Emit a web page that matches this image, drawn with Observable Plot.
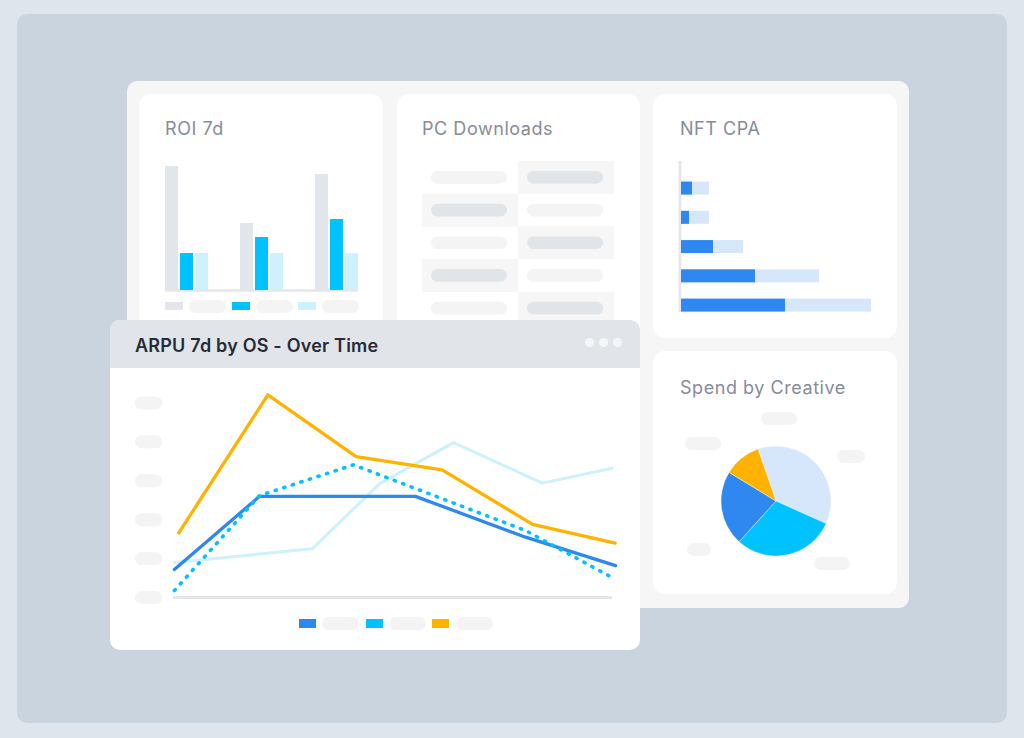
<!DOCTYPE html>
<html><head><meta charset="utf-8">
<script src="https://cdn.jsdelivr.net/npm/d3@7"></script>
<script src="https://cdn.jsdelivr.net/npm/@observablehq/plot@0.6"></script>
<style>
html,body{margin:0;padding:0}
body{width:1024px;height:738px;background:#dfe5ed;position:relative;overflow:hidden;font-family:Inter,"Noto Sans",sans-serif}
.abs{position:absolute}
.card{position:absolute;background:#fff;border-radius:12px}
.title{position:absolute;font-size:18px;line-height:20px;color:#878b9b;white-space:nowrap;font-weight:400;letter-spacing:0.55px}
.pill{position:absolute;background:#f4f4f4;border-radius:7px}
.sw{position:absolute}
.chart{position:absolute}
.chart svg{display:block;background:transparent;max-width:none}
</style></head><body>
<div class="abs" style="left:17px;top:14px;width:990px;height:709px;background:#cad4de;border-radius:10px"></div>
<div class="abs" style="left:127px;top:81px;width:782px;height:527px;background:#f6f6f6;border-radius:10px"></div>

<div class="card" style="left:139px;top:94px;width:244px;height:270px"></div>
<div class="card" style="left:397px;top:94px;width:243px;height:270px"></div>
<div class="card" style="left:653px;top:94px;width:244px;height:244px"></div>
<div class="card" style="left:653px;top:351px;width:244px;height:243px"></div>

<div class="title" style="left:165px;top:119px">ROI 7d</div>
<div class="title" style="left:422px;top:119px">PC Downloads</div>
<div class="title" style="left:680px;top:119px">NFT CPA</div>
<div class="title" style="left:680px;top:378px">Spend by Creative</div>

<div id="roi" class="chart" style="left:139px;top:150px;width:244px;height:145px"></div>
<div id="roiLegend"></div>
<div id="table" class="chart" style="left:397px;top:150px;width:243px;height:180px"></div>
<div id="nft" class="chart" style="left:653px;top:150px;width:244px;height:170px"></div>

<div class="pill" style="left:761px;top:412px;width:36px;height:13px"></div>
<div class="pill" style="left:685px;top:437px;width:36px;height:13px"></div>
<div class="pill" style="left:837px;top:450px;width:28px;height:13px"></div>
<div class="pill" style="left:687px;top:543px;width:24px;height:13px"></div>
<div class="pill" style="left:814px;top:557px;width:36px;height:13px"></div>
<div id="pie" class="chart" style="left:716px;top:441px;width:120px;height:120px"></div>

<div class="abs" style="left:110px;top:320px;width:530px;height:330px;background:#fff;border-radius:10px;overflow:hidden">
  <div class="abs" style="left:0;top:0;width:530px;height:48px;background:#e1e5e9"></div>
  <div class="abs" style="left:25px;top:16px;font-size:18px;line-height:20px;font-weight:600;color:#262b36;white-space:nowrap;letter-spacing:0.2px">ARPU 7d by OS - Over Time</div>
  <div class="abs" style="left:474.6px;top:17.6px;width:9.4px;height:9.4px;border-radius:50%;background:#f5f6f8"></div>
  <div class="abs" style="left:488.6px;top:17.6px;width:9.4px;height:9.4px;border-radius:50%;background:#f5f6f8"></div>
  <div class="abs" style="left:502.6px;top:17.6px;width:9.4px;height:9.4px;border-radius:50%;background:#f5f6f8"></div>
</div>
<div id="arpu" class="chart" style="left:110px;top:368px;width:530px;height:282px"></div>
<div id="arpuLegend"></div>

<script>
// ---------- ROI 7d (grouped bars) ----------
const roiGroups = ["Campaign A", "Campaign B", "Campaign C"];
const roiSeries = ["Spend", "Revenue", "Target"];
const roiSpend = [62, 33.5, 58];
const roiRevenue = [18.5, 26.5, 35.5];
const roiTarget = [18.5, 18.5, 18.5];
const roiColors = ["#e2e5e9", "#00c2ff", "#cdf1fd"];

// ---------- PC Downloads (table cells) ----------
const tableCols = ["Platform", "Downloads"];
const tableRows = ["Row 1", "Row 2", "Row 3", "Row 4", "Row 5"];

// ---------- NFT CPA (horizontal bars) ----------
const nftRows = ["Tier 1", "Tier 2", "Tier 3", "Tier 4", "Tier 5"];
const nftActual = [11, 8, 32, 74, 104];
const nftTotal = [28, 28, 62, 138, 190];

// ---------- Spend by Creative (pie) ----------
const pieLabels = ["Video", "Playable", "Banner", "Static"];
const pieValues = [37, 30, 22, 11];
const pieColors = ["#d6e6fb", "#00c2ff", "#2f88f0", "#ffb300"];

// ---------- ARPU 7d by OS (lines) ----------
const arpuSeries = ["Web", "Android", "iOS (forecast)", "iOS"];
const arpuColors = ["#cdf1fd", "#2f88f0", "#00c2ff", "#ffb300"];
const webX = [0.2, 31.6, 46.9, 63.8, 84.0, 99.9];
const webY = [9.0, 12.5, 29.2, 39.8, 29.4, 33.2];
const androidX = [0.2, 19.6, 55.1, 80.2, 100.7];
const androidY = [7.2, 26.0, 26.0, 15.5, 8.2];
const forecastX = [0.2, 19.6, 41.0, 80.2, 100];
const forecastY = [1.8, 26.2, 34.1, 17.2, 5.1];
const iosX = [1.2, 21.5, 41.6, 61.2, 81.8, 100.6];
const iosY = [16.6, 52.1, 36.2, 32.8, 18.8, 14.0];
const arpuTicks = [0, 10, 20, 30, 40, 50];
const arpuLegendSeries = ["Android", "iOS (forecast)", "iOS"];

// ===== ROI chart =====
const roiValues = [roiSpend, roiRevenue, roiTarget];
const roiData = roiGroups.flatMap((g, i) => roiSeries.map((s, j) => ({group: g, series: s, key: g + "|" + s, value: roiValues[j][i]})));
const roiDomain = [];
roiGroups.forEach((g, i) => { if (i) roiDomain.push("gap" + i + "a", "gap" + i + "b"); roiSeries.forEach(s => roiDomain.push(g + "|" + s)); });
document.getElementById("roi").append(Plot.plot({
  width: 244, height: 145, marginLeft: 26, marginRight: 25, marginTop: 16, marginBottom: 5,
  style: {background: "transparent"},
  x: {domain: roiDomain, paddingInner: 0.133, paddingOuter: 0, round: false, axis: null},
  y: {domain: [0, 62], axis: null},
  color: {domain: roiSeries, range: roiColors},
  marks: [
    Plot.ruleY([0], {stroke: "#e4e6ea", strokeWidth: 2.5}),
    Plot.barY(roiData, {x: "key", y: "value", fill: "series"})
  ]
}));
// legend
(function(){
  const box = document.getElementById("roiLegend");
  roiSeries.forEach((s, i) => {
    const x = 165 + i * 66.5;
    box.insertAdjacentHTML("beforeend",
      `<div class="sw" style="left:${x}px;top:302px;width:18px;height:8px;background:${roiColors[i]}"></div>` +
      `<div class="pill" style="left:${x + 24}px;top:300px;width:37px;height:13px"></div>`);
  });
})();

// ===== Table chart =====
const cells = tableRows.flatMap((r, i) => tableCols.map((c, j) => ({row: r, col: c, shaded: (i + j) % 2 === 1})));
document.getElementById("table").append(Plot.plot({
  width: 243, height: 180, marginLeft: 25, marginRight: 26, marginTop: 11, marginBottom: 5.5,
  style: {background: "transparent"},
  x: {domain: tableCols, padding: 0, round: false, axis: null},
  y: {domain: tableRows, padding: 0, round: false, axis: null},
  marks: [
    Plot.cell(cells.filter(d => d.shaded), {x: "col", y: "row", fill: "#f6f6f6"}),
    Plot.cell(cells.filter(d => d.shaded), {x: "col", y: "row", fill: "#e2e5e8", insetLeft: 9, insetRight: 11, insetTop: 10, insetBottom: 10, rx: 6.5}),
    Plot.cell(cells.filter(d => !d.shaded), {x: "col", y: "row", fill: "#f4f4f4", insetLeft: 9, insetRight: 11, insetTop: 10, insetBottom: 10, rx: 6.5})
  ]
}));

// ===== NFT chart =====
const nftData = nftRows.map((r, i) => ({row: r, actual: nftActual[i], total: nftTotal[i]}));
document.getElementById("nft").append(Plot.plot({
  width: 244, height: 170, marginLeft: 28, marginRight: 26, marginTop: 11, marginBottom: 8,
  style: {background: "transparent"},
  x: {domain: [0, 190], axis: null},
  y: {domain: nftRows, paddingInner: 0.556, paddingOuter: 0.359, align: 0.98, round: false, axis: null},
  marks: [
    Plot.ruleX([0], {stroke: "#e4e6ea", strokeWidth: 2.7, dx: -1.5}),
    Plot.barX(nftData, {y: "row", x: "total", fill: "#d6e6fb"}),
    Plot.barX(nftData, {y: "row", x: "actual", fill: "#2f88f0"})
  ]
}));

// ===== Pie chart =====
const pieData = pieLabels.map((l, i) => ({label: l, value: pieValues[i], color: pieColors[i]}));
const pieStart = -19 * Math.PI / 180;
document.getElementById("pie").append(Plot.plot({
  width: 120, height: 120, margin: 5,
  style: {background: "transparent"},
  marks: [
    (index, scales, values, dims) => {
      const W = dims && dims.width ? dims.width : 120, H = dims && dims.height ? dims.height : 120;
      const m = dims && dims.marginLeft != null ? dims.marginLeft : 5;
      const r = Math.min(W, H) / 2 - m;
      const arcs = d3.pie().sort(null).value(d => d.value).startAngle(pieStart).endAngle(pieStart + 2 * Math.PI)(pieData);
      const g = d3.create("svg:g").attr("transform", `translate(${W / 2},${H / 2})`);
      g.selectAll("path").data(arcs).join("path")
        .attr("d", d3.arc().innerRadius(0).outerRadius(r))
        .attr("fill", d => d.data.color)
        .attr("stroke", "#ffffff").attr("stroke-width", 0.4);
      return g.node();
    }
  ]
}));

// ===== ARPU chart =====
const toPts = (xs, ys) => xs.map((x, i) => ({x, y: ys[i]}));
const webPts = toPts(webX, webY), androidPts = toPts(androidX, androidY), forecastPts = toPts(forecastX, forecastY), iosPts = toPts(iosX, iosY);
document.getElementById("arpu").append(Plot.plot({
  width: 530, height: 282, marginLeft: 63, marginRight: 28, marginTop: 15, marginBottom: 53,
  style: {background: "transparent", overflow: "visible"},
  x: {domain: [0, 100], axis: null},
  y: {domain: [0, 55], axis: null},
  marks: [
    Plot.ruleY(arpuTicks, {y: d => d, x1: -7.2, x2: -3.9, stroke: "#f4f4f4", strokeWidth: 13, strokeLinecap: "round"}),
    Plot.ruleY([0], {stroke: "#e4e6ea", strokeWidth: 3}),
    Plot.line(webPts, {x: "x", y: "y", stroke: arpuColors[0], strokeWidth: 3}),
    Plot.line(androidPts, {x: "x", y: "y", stroke: arpuColors[1], strokeWidth: 3.3}),
    Plot.line(forecastPts, {x: "x", y: "y", stroke: arpuColors[2], strokeWidth: 3.6, strokeDasharray: "1.2 7.8", strokeLinecap: "round"}),
    Plot.line(iosPts, {x: "x", y: "y", stroke: arpuColors[3], strokeWidth: 3.3})
  ]
}));
(function(){
  const box = document.getElementById("arpuLegend");
  arpuLegendSeries.forEach((s, i) => {
    const x = 299 + i * 66.7;
    const c = arpuColors[arpuSeries.indexOf(s)];
    box.insertAdjacentHTML("beforeend",
      `<div class="sw" style="left:${x}px;top:619px;width:17px;height:8.5px;background:${c}"></div>` +
      `<div class="pill" style="left:${x + 23.3}px;top:617px;width:37px;height:13px"></div>`);
  });
})();
</script>
</body></html>
